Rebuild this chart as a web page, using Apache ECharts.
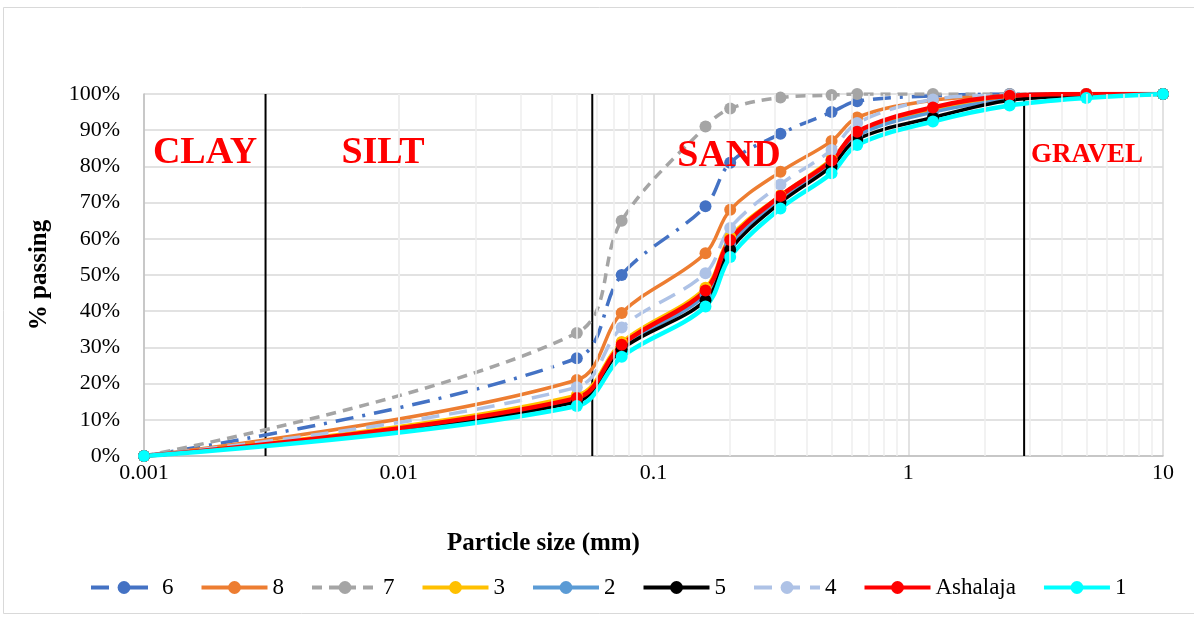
<!DOCTYPE html>
<html>
<head>
<meta charset="utf-8">
<script src="https://cdn.jsdelivr.net/npm/echarts@6/dist/echarts.min.js"></script>
<style>
  html, body { margin: 0; background: #fff; }
  #chart { width: 1194px; height: 618px; }
</style>
</head>
<body>
<div id="chart"></div>
<script>
// sieve sizes (mm) and % passing for each sample
const sizes = [0.001, 0.05, 0.075, 0.16, 0.2, 0.315, 0.5, 0.63, 1.25, 2.5, 5, 10];
const s6 = [0, 27, 50, 69, 81, 89, 95, 98, 99.5, 100, 100, 100];
const s8 = [0, 21, 39.5, 56, 68, 78.5, 87, 93.5, 98.3, 99.5, 100, 100];
const s7 = [0, 34, 65, 91, 96, 99, 99.7, 100, 100, 100, 100, 100];
const s3 = [0, 16.8, 31.5, 46.5, 60.5, 72, 82, 89.5, 95.5, 99, 100, 100];
const s2 = [0, 15.5, 30, 44.5, 58.5, 70.5, 80.5, 88.5, 95, 98.5, 99.5, 100];
const s5 = [0, 15, 29.5, 43, 57, 70, 80, 87.5, 93.5, 98.3, 99.5, 100];
const s4 = [0, 19, 35.5, 50.5, 63, 75, 84.5, 92, 98.5, 99.7, 100, 100];
const sAsh = [0, 16, 30.7, 45.7, 59.7, 71.8, 81.6, 89.6, 96.3, 99.5, 100, 100];
const s1 = [0, 13.8, 27.4, 41.3, 55, 68.4, 78.1, 85.9, 92.4, 96.8, 98.9, 100];

// clay / silt / sand / gravel boundaries (mm)
const boundaries = [0.003, 0.0575, 2.85];
const zones = ['CLAY', 'SILT', 'SAND', 'GRAVEL'];

const chart = echarts.init(document.getElementById('chart'));
const serif = '"Liberation Serif", "Times New Roman", serif';

// minor log gridlines at 2..9 of each decade
const minorLines = [];
for (let n = -3; n <= 0; n++) {
  for (let k = 2; k <= 9; k++) {
    minorLines.push({ xAxis: +(k * Math.pow(10, n)).toPrecision(3) });
  }
}

const pairs = ys => sizes.map((x, i) => [x, ys[i]]);

function curve(name, ys, color, type, width) {
  return {
    name: name,
    type: 'line',
    data: pairs(ys),
    smooth: 0.35,
    symbol: 'circle',
    symbolSize: 12,
    z: 3,
    itemStyle: { color: color },
    lineStyle: { color: color, width: width || 3.5, type: type || 'solid' }
  };
}

// boundary verticals drawn as plain two-point lines (markLine rounds on log axes)
const boundarySeries = boundaries.map(b => ({
  type: 'line',
  data: [[b, 0], [b, 100]],
  symbol: 'none',
  silent: true,
  z: 2,
  lineStyle: { color: '#000', width: 2 }
}));

const option = {
  animation: false,
  backgroundColor: '#fff',
  grid: { left: 144, right: 31, top: 94, bottom: 162 },
  xAxis: {
    type: 'log',
    logBase: 10,
    min: 0.001,
    max: 10,
    axisLine: { lineStyle: { color: '#bfbfbf', width: 1.5 } },
    axisTick: { show: false },
    splitLine: { show: true, lineStyle: { color: '#d9d9d9', width: 1.5 } },
    axisLabel: { color: '#000', fontFamily: serif, fontSize: 22, margin: 6 }
  },
  yAxis: {
    type: 'value',
    min: 0,
    max: 100,
    interval: 10,
    axisLine: { show: true, lineStyle: { color: '#bfbfbf', width: 1.5 } },
    axisTick: { show: false },
    splitLine: { lineStyle: { color: '#d9d9d9', width: 1.5 } },
    axisLabel: { color: '#000', fontFamily: serif, fontSize: 22, margin: 24, formatter: '{value}%' }
  },
  legend: {
    left: 84,
    top: 571,
    itemWidth: 66,
    itemHeight: 16,
    itemGap: 26,
    lineStyle: { width: 4 },
    textStyle: { color: '#000', fontFamily: serif, fontSize: 23 },
    data: ['6', '8', '7', '3', '2', '5', '4', 'Ashalaja', '1']
  },
  graphic: [
    { type: 'rect', shape: { x: 3.5, y: 7.5, width: 1200, height: 606 }, style: { fill: null, stroke: '#d9d9d9', lineWidth: 1 }, z: -10, silent: true },
    { type: 'text', left: 447, top: 531, style: { text: 'Particle size (mm)', font: 'bold 25px ' + serif, fill: '#000' } },
    { type: 'text', x: 40, y: 275, rotation: Math.PI / 2, style: { text: '% passing', font: 'bold 25px ' + serif, fill: '#000', align: 'center', verticalAlign: 'middle' } },
    { type: 'text', x: 205, y: 153, style: { text: zones[0], font: 'bold 38px ' + serif, fill: '#ff0000', align: 'center', verticalAlign: 'middle' }, z: 10 },
    { type: 'text', x: 383, y: 153, style: { text: zones[1], font: 'bold 38px ' + serif, fill: '#ff0000', align: 'center', verticalAlign: 'middle' }, z: 10 },
    { type: 'text', x: 729, y: 156, style: { text: zones[2], font: 'bold 38px ' + serif, fill: '#ff0000', align: 'center', verticalAlign: 'middle' }, z: 10 },
    { type: 'text', x: 1087, y: 155, style: { text: zones[3], font: 'bold 27px ' + serif, fill: '#ff0000', align: 'center', verticalAlign: 'middle' }, z: 10 }
  ],
  series: [
    {
      name: 'minor-grid',
      type: 'line',
      data: [],
      z: 1,
      silent: true,
      markLine: {
        silent: true,
        symbol: 'none',
        label: { show: false },
        lineStyle: { color: '#eeeeee', width: 1.5, type: 'solid' },
        data: minorLines
      }
    },
    ...boundarySeries,
    curve('6', s6, '#4472c4', [18, 9, 3, 9]),
    curve('8', s8, '#ed7d31'),
    curve('7', s7, '#a5a5a5', [10, 7]),
    curve('3', s3, '#ffc000'),
    curve('2', s2, '#5b9bd5'),
    curve('5', s5, '#000000'),
    curve('4', s4, '#aec2e6', [18, 10]),
    curve('Ashalaja', sAsh, '#ff0000', 'solid', 4.5),
    curve('1', s1, '#00ffff', 'solid', 4.5)
  ]
};

chart.setOption(option);
</script>
</body>
</html>
